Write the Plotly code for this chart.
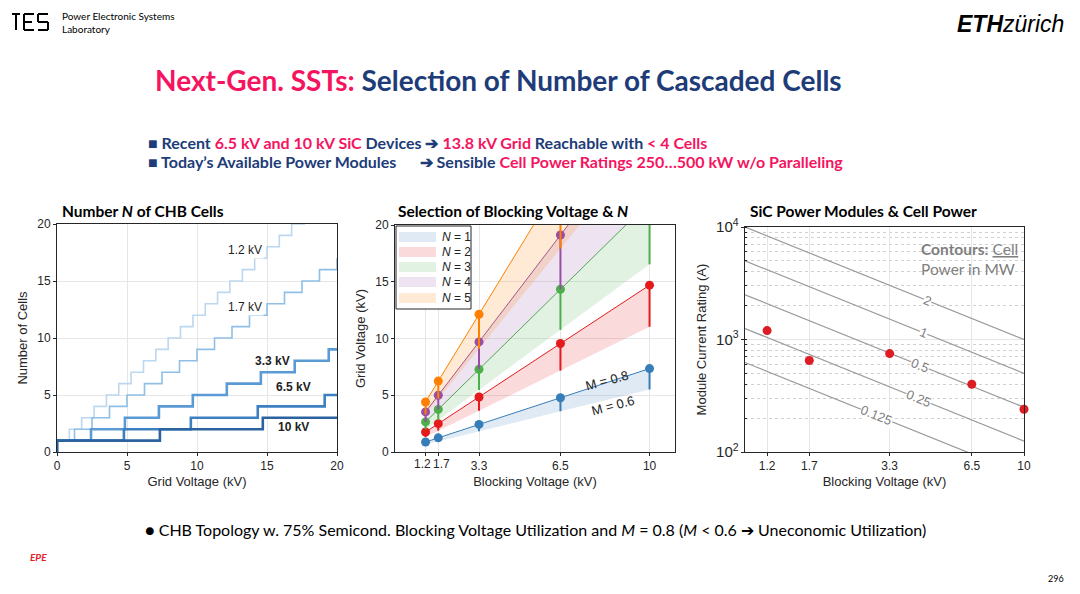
import math
import plotly.graph_objects as go

# ---- left plot: number of cells vs grid voltage (step thresholds)
cell_labels = ["1.2 kV", "1.7 kV", "3.3 kV", "6.5 kV", "10 kV"]
steps_12 = [0.88, 1.76, 2.65, 3.53, 4.41, 5.29, 6.18, 7.06, 7.94, 8.82, 9.71,
            10.59, 11.47, 12.35, 13.24, 14.12, 15.0, 15.88, 16.76, 17.65]
steps_17 = [1.25, 2.5, 3.75, 5.0, 6.25, 7.5, 8.75, 10.0, 11.25, 12.5, 13.75,
            15.0, 16.25, 17.5, 18.75, 20.0]
steps_33 = [2.43, 4.85, 7.28, 9.7, 12.13, 14.56, 16.98, 19.41]
steps_65 = [4.78, 9.56, 14.34, 19.12]
steps_10 = [7.35, 14.7]
step_sets = [steps_12, steps_17, steps_33, steps_65, steps_10]
step_colors = ["#bcd7ef", "#8fbfe6", "#5b9bd5", "#3d80c2", "#2b63a0"]
step_widths = [1.6, 1.6, 2.6, 2.6, 2.6]

# ---- middle plot: grid voltage reachable per blocking voltage
blocking_kv = [1.2, 1.7, 3.3, 6.5, 10]
n_names = ["<i>N</i> = 1", "<i>N</i> = 2", "<i>N</i> = 3", "<i>N</i> = 4", "<i>N</i> = 5"]
v_m08 = [
    [0.88, 1.25, 2.43, 4.78, 7.35],
    [1.76, 2.50, 4.85, 9.56, 14.70],
    [2.65, 3.75, 7.28, 14.34, 22.05],
    [3.53, 5.00, 9.70, 19.12, 29.40],
    [4.41, 6.25, 12.13, 23.90, 36.75],
]
v_m06 = [
    [0.66, 0.94, 1.82, 3.59, 5.51],
    [1.32, 1.88, 3.64, 7.17, 11.03],
    [1.99, 2.81, 5.46, 10.76, 16.54],
    [2.65, 3.75, 7.28, 14.34, 22.05],
    [3.31, 4.69, 9.10, 17.93, 27.56],
]
n_colors = ["#377eb8", "#e41a1c", "#4daf4a", "#984ea3", "#ff7f00"]
n_fills = ["rgba(55,126,184,0.16)", "rgba(228,26,28,0.16)", "rgba(77,175,74,0.16)",
           "rgba(152,78,163,0.16)", "rgba(255,127,0,0.16)"]

# ---- right plot: SiC modules and cell power contours
module_kv = [1.2, 1.7, 3.3, 6.5, 10]
module_amps = [1200, 650, 750, 400, 240]
contour_mw = ["0.125", "0.25", "0.5", "1", "2"]
contour_amps_1kv = [625, 1250, 2500, 5000, 10000]
contour_amps_10kv = [62.5, 125, 250, 500, 1000]
contour_lbl_kv = [2.97, 4.2, 4.25, 4.36, 4.5]

AX = "Liberation Sans"
SL = "Lato"
PINK = "#f5145f"
NAVY = "#203c78"

# page has an 8px body margin, so work in slide pixels shifted by 8
W, H, OFF = 1064, 578, 8


def px(x):
    return (x - OFF) / W


def py(y):
    return 1 - (y - OFF) / H


fig = go.Figure()

# left
for lbl, st, col, w in zip(cell_labels, step_sets, step_colors, step_widths):
    xs = [0, 0] + st + [20]
    ys = list(range(0, len(st) + 2)) + [len(st) + 1]
    fig.add_trace(go.Scatter(x=xs, y=ys, mode="lines", line=dict(color=col, width=w, shape="hv"),
                             showlegend=False, xaxis="x", yaxis="y", name=lbl))

# middle fills
for i in range(5):
    fig.add_trace(go.Scatter(x=blocking_kv, y=v_m06[i], mode="lines", line=dict(width=0, color=n_colors[i]),
                             showlegend=False, xaxis="x2", yaxis="y2", hoverinfo="skip"))
    fig.add_trace(go.Scatter(x=blocking_kv, y=v_m08[i], mode="lines", fill="tonexty", fillcolor=n_fills[i],
                             line=dict(width=1, color=n_colors[i]), showlegend=False,
                             xaxis="x2", yaxis="y2"))
for i in range(5):
    diff = [a - b for a, b in zip(v_m08[i], v_m06[i])]
    fig.add_trace(go.Scatter(x=blocking_kv, y=v_m08[i], mode="markers",
                             marker=dict(size=9, color=n_colors[i]),
                             error_y=dict(type="data", symmetric=False, array=[0] * 5, arrayminus=diff,
                                          color=n_colors[i], thickness=2, width=0),
                             showlegend=False, xaxis="x2", yaxis="y2"))

# right
for lvl, a1, a10 in zip(contour_mw, contour_amps_1kv, contour_amps_10kv):
    fig.add_trace(go.Scatter(x=[1, 10], y=[a1, a10], mode="lines", line=dict(color="#999999", width=1.2),
                             showlegend=False, xaxis="x3", yaxis="y3"))
fig.add_trace(go.Scatter(x=module_kv, y=module_amps, mode="markers",
                         marker=dict(size=9, color="#dd1c24"), showlegend=False, xaxis="x3", yaxis="y3",
                         cliponaxis=False))

ann = []
shapes = []

# contour labels
for lvl, a1, kv in zip(contour_mw, contour_amps_1kv, contour_lbl_kv):
    ann.append(dict(x=math.log10(kv), y=math.log10(a1 / kv),
                    xref="x3", yref="y3", text=lvl, showarrow=False, textangle=22,
                    font=dict(family=AX, size=13, color="#7f7f7f"), bgcolor="white", borderpad=0))
ann.append(dict(x=0.985, y=0.95, xref="x3 domain", yref="y3 domain", xanchor="right", yanchor="top", align="left",
                text="<b>Contours:</b> <u>Cell</u><br>Power in MW", showarrow=False,
                font=dict(family=SL, size=15.5, color="#7f7f7f")))

# left labels
left_lbl = [("1.2 kV", 13.4, 17.7, False), ("1.7 kV", 13.4, 12.7, False), ("3.3 kV", 15.4, 8.0, True),
            ("6.5 kV", 16.9, 5.7, True), ("10 kV", 16.9, 2.2, True)]
for t, x, y, b in left_lbl:
    ann.append(dict(x=x, y=y, xref="x", yref="y", text="<b>%s</b>" % t if b else t, showarrow=False,
                    font=dict(family=AX, size=12, color="#222"), bgcolor="white" if not b else None,
                    borderpad=1))

# middle M labels
ann.append(dict(x=8.33, y=6.3, xref="x2", yref="y2", text="M = 0.8", showarrow=False, textangle=-15,
                font=dict(family=AX, size=13, color="#222")))
ann.append(dict(x=8.57, y=4.1, xref="x2", yref="y2", text="M = 0.6", showarrow=False, textangle=-15,
                font=dict(family=AX, size=13, color="#222")))

# middle crowded tick labels 1.2 / 1.7 nudged apart
ann.append(dict(x=1.2, y=0, xref="x2", yref="y2 domain", yanchor="top", text="1.2", showarrow=False,
                xshift=-3, yshift=-3, font=dict(family=AX, size=12, color="#262626")))
ann.append(dict(x=1.7, y=0, xref="x2", yref="y2 domain", yanchor="top", text="1.7", showarrow=False,
                xshift=3, yshift=-3, font=dict(family=AX, size=12, color="#262626")))

# middle legend box (drawn by hand to match compact MATLAB legend)
def lx(x):
    return (x - 395) / 280


def ly(y):
    return (452 - y) / 227


shapes.append(dict(type="rect", xref="x2 domain", yref="y2 domain", x0=lx(396), x1=lx(471), y0=ly(226), y1=ly(309),
                   fillcolor="white", line=dict(color="#262626", width=1), layer="above"))
row_y = [237, 252, 267, 282, 298]
for i in range(5):
    shapes.append(dict(type="rect", xref="x2 domain", yref="y2 domain", x0=lx(399), x1=lx(436),
                       y0=ly(row_y[i] - 5), y1=ly(row_y[i] + 5), fillcolor=n_fills[i], line=dict(width=0),
                       layer="above"))
    ann.append(dict(x=lx(440), y=ly(row_y[i]), xref="x2 domain", yref="y2 domain", xanchor="left",
                    yanchor="middle", text=n_names[i], showarrow=False,
                    font=dict(family=AX, size=12, color="#222")))

# subplot titles
for t, x in [("Number <i>N</i> of CHB Cells", 60), ("Selection of Blocking Voltage & <i>N</i>", 396),
             ("SiC Power Modules & Cell Power", 748)]:
    ann.append(dict(x=px(x), y=py(211), xref="paper", yref="paper", xanchor="left", yanchor="middle",
                    text="<b>%s</b>" % t, showarrow=False, font=dict(family=SL, size=15.5, color="black")))

# slide header texts
ann.append(dict(x=px(60), y=py(22), xref="paper", yref="paper", xanchor="left", yanchor="middle",
                text="Power Electronic Systems<br>Laboratory", showarrow=False, align="left",
                font=dict(family=SL, size=10, color="black")))
ann.append(dict(x=px(1066), y=py(24), xref="paper", yref="paper", xanchor="right", yanchor="middle",
                text="<b><i>ETH</i></b><i>zürich</i>", showarrow=False,
                font=dict(family="Liberation Sans", size=23, color="black")))
ann.append(dict(x=px(498), y=py(80), xref="paper", yref="paper", xanchor="center", yanchor="middle",
                text="<b><span style='color:%s'>Next-Gen. SSTs:</span> Selection of Number of Cascaded Cells</b>" % PINK,
                showarrow=False, font=dict(family=SL, size=28, color=NAVY)))
b1 = ("■ Recent <span style='color:%s'>6.5 kV and 10 kV SiC</span> Devices ➔ "
      "<span style='color:%s'>13.8 kV Grid</span> Reachable with <span style='color:%s'>&lt; 4 Cells</span>") % (PINK, PINK, PINK)
b2 = ("■ Today’s Available Power Modules      ➔ Sensible "
      "<span style='color:%s'>Cell Power Ratings 250…500 kW w/o Paralleling</span>") % PINK
ann.append(dict(x=px(146), y=py(142), xref="paper", yref="paper", xanchor="left", yanchor="middle",
                text="<b>%s</b>" % b1, showarrow=False, font=dict(family=SL, size=16, color=NAVY)))
ann.append(dict(x=px(146), y=py(162), xref="paper", yref="paper", xanchor="left", yanchor="middle",
                text="<b>%s</b>" % b2, showarrow=False, font=dict(family=SL, size=16, color=NAVY)))
ann.append(dict(x=px(143), y=py(529), xref="paper", yref="paper", xanchor="left", yanchor="middle",
                text="● CHB Topology w. 75% Semicond. Blocking Voltage Utilization and <i>M</i> = 0.8 "
                     "(<i>M</i> &lt; 0.6 ➔ Uneconomic Utilization)",
                showarrow=False, font=dict(family=SL, size=16, color="black")))
ann.append(dict(x=px(1066), y=py(578), xref="paper", yref="paper", xanchor="right", yanchor="middle",
                text="296", showarrow=False, font=dict(family=SL, size=9, color="black")))
ann.append(dict(x=px(38), y=py(557), xref="paper", yref="paper", xanchor="center", yanchor="middle",
                text="<b><i>EPE</i></b>", showarrow=False, font=dict(family=SL, size=10, color="#e0202a")))

# PES logo drawn as line strokes (slide px)
logo = [(12, 14, 20, 14), (16, 14, 16, 30), (24, 14, 34, 14), (24, 14, 24, 30), (24, 22, 32, 22),
        (24, 30, 34, 30), (38, 14, 48, 14), (38, 14, 38, 22), (38, 22, 48, 22), (48, 22, 48, 30), (38, 30, 48, 30)]
for x0, y0, x1, y1 in logo:
    shapes.append(dict(type="line", xref="paper", yref="paper", x0=px(x0), x1=px(x1),
                       y0=py(y0), y1=py(y1), line=dict(color="black", width=2)))

tick_font = dict(family=AX, size=12, color="#262626")
title_font = dict(family=AX, size=13, color="#262626")
common = dict(showline=True, linecolor="#262626", linewidth=1, mirror=True, ticks="outside", ticklen=3,
              tickcolor="#262626", gridcolor="#e6e6e6", zeroline=False, tickfont=tick_font,
              automargin=False, tickangle=0)

fig.update_layout(
    width=W, height=H, margin=dict(l=0, r=0, t=0, b=0, autoexpand=False),
    paper_bgcolor="white", plot_bgcolor="white", showlegend=False,
    xaxis=dict(domain=[px(57), px(337)], range=[0, 20], dtick=5, anchor="y",
               title=dict(text="Grid Voltage (kV)", font=title_font, standoff=4), **common),
    yaxis=dict(domain=[py(452), py(224)], range=[0, 20], dtick=5, anchor="x",
               title=dict(text="Number of Cells", font=title_font, standoff=6), **common),
    xaxis2=dict(domain=[px(395), px(675)], range=[0, 11], tickvals=blocking_kv,
                ticktext=["", "", "3.3", "6.5", "10"], anchor="y2",
                title=dict(text="Blocking Voltage (kV)", font=title_font, standoff=4), **common),
    yaxis2=dict(domain=[py(452), py(225)], range=[0, 20], dtick=5, anchor="x2",
                title=dict(text="Grid Voltage (kV)", font=title_font, standoff=6), **common),
    xaxis3=dict(domain=[px(745), px(1024)], type="log", range=[0, 1], tickvals=module_kv,
                ticktext=["1.2", "1.7", "3.3", "6.5", "10"], anchor="y3",
                title=dict(text="Blocking Voltage (kV)", font=title_font, standoff=4), **common),
    yaxis3=dict(domain=[py(452), py(227)], type="log", range=[2, 4], dtick=1,
                exponentformat="power", anchor="x3",
                minor=dict(showgrid=True, gridcolor="#d0d0d0", griddash="dot", ticks="inside", ticklen=2,
                           dtick="D1"),
                title=dict(text="Module Current Rating (A)", font=title_font, standoff=6), **common),
    annotations=ann,
    shapes=shapes,
)

fig.write_html("out.html")
